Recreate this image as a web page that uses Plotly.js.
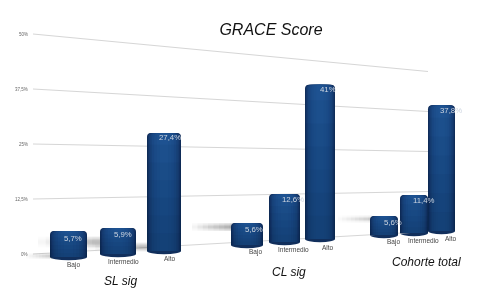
<!DOCTYPE html>
<html>
<head>
<meta charset="utf-8">
<script src="https://cdn.plot.ly/plotly-3.0.1.min.js"></script>
<style>html,body{margin:0;padding:0;background:#fff}#c{width:502px;height:304px;filter:blur(0.4px)}</style>
</head>
<body>
<div id="c"></div>
<script>
// ---- Data ----
const groups = ["SL sig", "CL sig", "Cohorte total"];
const levels = ["Bajo", "Intermedio", "Alto"];
const slSig = [5.7, 5.9, 27.4];
const clSig = [5.6, 12.6, 41];
const cohorte = [5.6, 11.4, 37.8];
const yTicks = [0, 12.5, 25, 37.5, 50];
const yTickLabels = ["0%", "12,5%", "25%", "37,5%", "50%"];

// ---- Perspective of the picture: each bar has its own value axis ----
const W = 502, H = 304;
// centre, half width, floor (px), px-per-percent
const geom = [
  [68.5, 18.5, 257, 4.56], [118, 18, 254, 4.41], [164, 17, 251, 4.31],
  [247, 16, 245, 3.93], [284.5, 15.5, 242, 3.81], [320, 15, 239, 3.76],
  [384, 14, 235, 3.4], [414, 14, 233, 3.33], [441.5, 13.5, 231, 3.33]
];
const values = slSig.concat(clSig, cohorte);
const labels = values.map(v => String(v).replace(".", ",") + "%");
const labelPx = [[73, 238], [123, 234], [170, 137], [254, 229], [293, 199], [328, 89], [393, 222], [424, 200], [451, 110]];
const catPx = [[73, 265], [123, 261], [170, 258], [255, 252], [293, 249], [328, 247], [393, 242], [423, 240], [451, 238]];
const grpPx = [[120, 281], [289, 272], [426, 262]];
const py = p => (254 - p) / 4.4;

const traces = [], shapes = [], annotations = [];
const layout = {
  width: W, height: H, margin: {l: 0, r: 0, t: 0, b: 0},
  paper_bgcolor: "#fff", plot_bgcolor: "#fff",
  showlegend: false, barmode: "overlay", barcornerradius: 4,
  xaxis: {range: [0, W], visible: false, fixedrange: true},
  yaxis: {range: [py(H), py(0)], visible: false, fixedrange: true}
};

// gridlines on the main value axis; right ends shrink with depth
const leftX = 33, rightX = 428;
const rightBase = 231.5, rightScale = 3.2;
yTicks.forEach((t, i) => {
  traces.push({x: [leftX, rightX], y: [t, py(rightBase - rightScale * t)], mode: "lines", type: "scatter",
    line: {color: "#d6d6d6", width: 1}, hoverinfo: "skip"});
  annotations.push({xref: "x", yref: "y", x: 30, y: t, text: yTickLabels[i], showarrow: false,
    xanchor: "right", font: {size: 4.5, color: "#666", family: "Liberation Sans"}});
});

// soft floor shadows, fading towards their left end
const shadows = [[38, 100, 242, 11, 0.9], [88, 147, 247, 9, 0.9], [26, 52, 256, 6, 0.8], [192, 235, 227, 8, 1.2], [338, 372, 219, 7, 0.5]];
shadows.forEach(s => {
  for (let k = 0; k < 8; k++) {
    const x0 = s[0] + (s[1] - s[0]) * k / 8;
    [1, 0.6, 0.3].forEach(f => {
      traces.push({x: [x0, s[1]], y: [py(s[2]), py(s[2])], mode: "lines", type: "scatter",
        line: {color: "#666", width: s[3] * f}, opacity: 0.02 * s[4], hoverinfo: "skip"});
    });
  }
});

// cylinders: overlaid bars, edge to centre, then darkening towards the floor
const shades = ["#102c58", "#133466", "#163c72", "#18437c", "#1a4884", "#1c4d8a", "#1d508e", "#1e5291"];
const factor = [1, 0.95, 0.89, 0.81, 0.71, 0.58, 0.43, 0.25];
const fades = [0.9, 0.75, 0.6, 0.45, 0.3, 0.15];
values.forEach((v, i) => {
  const g = geom[i], ax = "y" + (i + 2), key = "yaxis" + (i + 2);
  layout[key] = {overlaying: "y", visible: false, fixedrange: true,
    range: [(g[2] - H) / g[3], g[2] / g[3]]};
  shapes.push({type: "circle", xref: "x", yref: ax, layer: "below",
    x0: g[0] - g[1], x1: g[0] + g[1],
    y0: -3.2 / g[3], y1: 3.2 / g[3], fillcolor: "#112f5c", line: {width: 0}});
  shades.forEach((c, k) => {
    traces.push({type: "bar", x: [g[0]], y: [v], width: [2 * g[1] * factor[k]], yaxis: ax,
      marker: {color: c, line: {width: 0}}, hoverinfo: "skip"});
  });
  fades.forEach(f => {
    traces.push({type: "bar", x: [g[0]], y: [v * f], width: [2 * g[1]], yaxis: ax,
      marker: {color: "rgba(8,22,50,0.045)", line: {width: 0}, cornerradius: 0}, hoverinfo: "skip"});
  });
  annotations.push({xref: "x", yref: ax, x: labelPx[i][0], y: (g[2] - labelPx[i][1]) / g[3], text: labels[i],
    showarrow: false, font: {size: 7.8, color: "#cdd5e0", family: "Liberation Sans"}});
});

// category labels under the bars
catPx.forEach((p, i) => {
  annotations.push({xref: "x", yref: "y", x: p[0], y: py(p[1]), text: levels[i % 3], showarrow: false,
    font: {size: 6.5, color: "#444", family: "Liberation Sans"}});
});

// group labels and title
groups.forEach((t, i) => {
  annotations.push({xref: "x", yref: "y", x: grpPx[i][0], y: py(grpPx[i][1]), text: "<i>" + t + "</i>",
    showarrow: false, font: {size: 12, color: "#111", family: "Liberation Sans"}});
});
layout.title = {text: "<i>GRACE Score</i>", x: 271 / W, xanchor: "center", y: 1 - 29 / H, yanchor: "middle",
  font: {size: 16, color: "#111", family: "Liberation Sans"}};
layout.shapes = shapes;
layout.annotations = annotations;

Plotly.newPlot("c", traces, layout, {displayModeBar: false, staticPlot: true});
</script>
</body>
</html>
